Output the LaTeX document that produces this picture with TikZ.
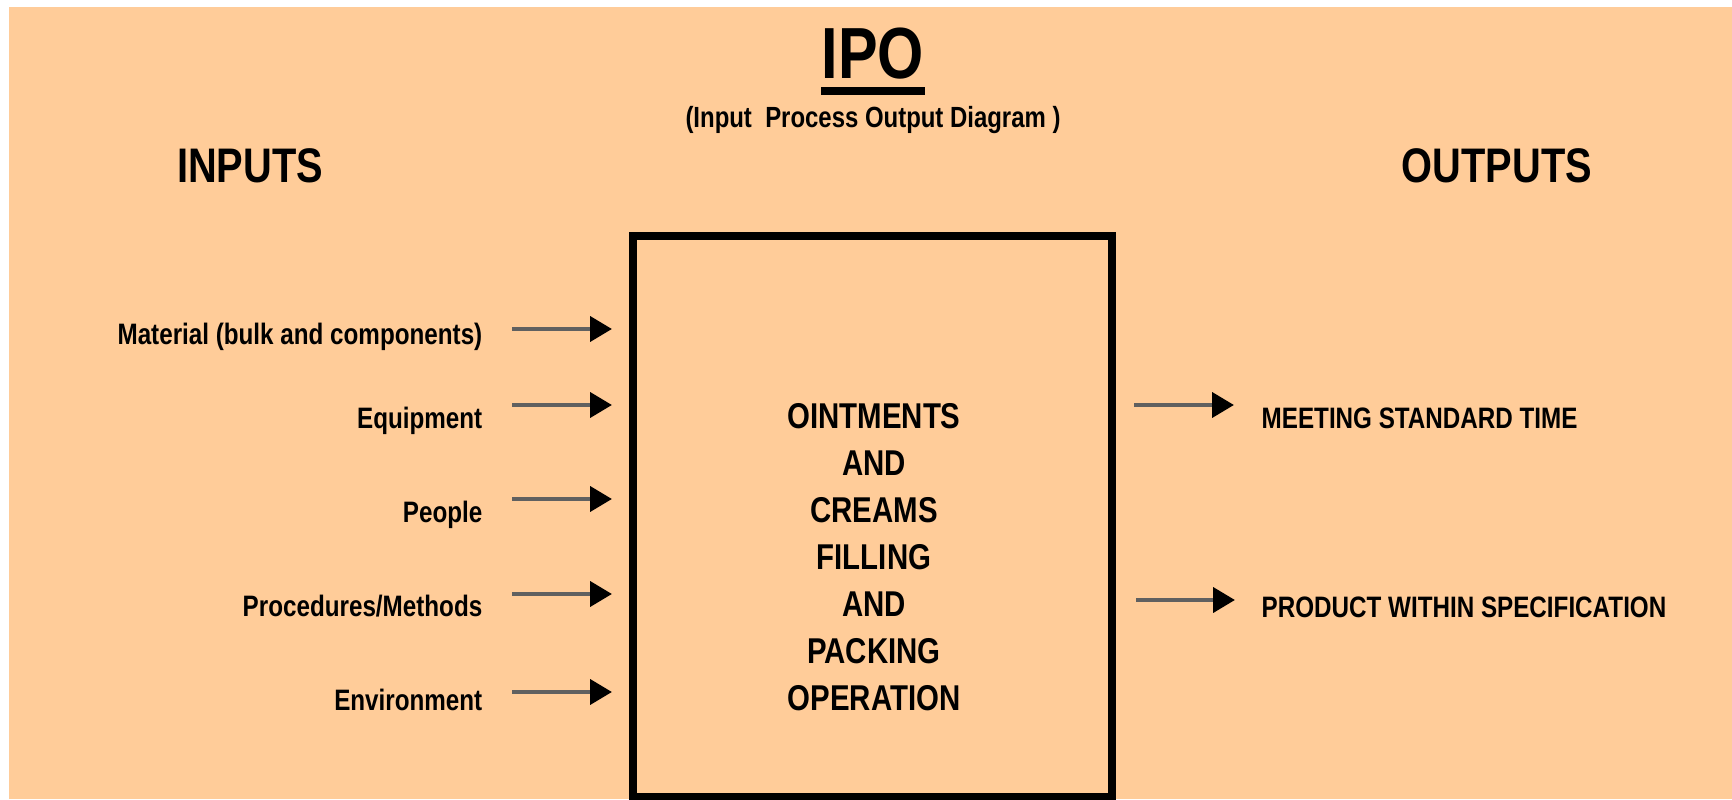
\documentclass[tikz,border=0pt]{standalone}
\usepackage{fontspec}
\setmainfont{Liberation Sans}[FakeStretch=0.82]
\usetikzlibrary{shapes,arrows,arrows.meta}
\definecolor{peach}{HTML}{FFCC99}

\begin{document}
\begin{tikzpicture}[x=0.01cm,y=-0.01cm]
		\tikzstyle {plain text} = [font=\bfseries, inner sep=0pt]
		\tikzstyle {label text} = [plain text, font=\fontsize{8.4pt}{10pt}\selectfont\bfseries]
		\tikzstyle {side title} = [plain text, font=\fontsize{13.8pt}{16pt}\selectfont\bfseries]
		\tikzstyle {proc box} = [draw, line width=2.3pt, inner sep=0pt, outer sep=0pt, minimum width=4.79cm, minimum height=5.61cm]
		\tikzstyle {flow line} = [line width=1.3pt, draw=gray!75!black, -{Triangle[length=6.2pt,width=7pt,color=black]}]

		\useasboundingbox (0,0) rectangle (1732,799);
		\fill[peach] (9,7) rectangle (1732,799);

		% title
		\node[plain text, anchor=base, font=\fontsize{20.6pt}{26pt}\selectfont\bfseries] (ipo) at (873,78) {IPO};
		\draw[line width=2.3pt] ([yshift=-3.7pt]ipo.base west) -- ([yshift=-3.7pt]ipo.base east);
		\node[plain text, anchor=base, font=\fontsize{8.3pt}{10pt}\selectfont\bfseries] (ipoSub) at (873,127) {(Input~ Process Output Diagram~)};

		\node[side title, anchor=base] (inputs) at (250,182) {INPUTS};
		\node[side title, anchor=base] (outputs) at (1497,182) {OUTPUTS};

		% process box
		\node[proc box, anchor=north west] (proc) at (633,236) {};
		\node[plain text, align=center, font=\fontsize{10.2pt}{13.37pt}\selectfont\bfseries] (procText) at (874,557)
			{OINTMENTS\\AND\\CREAMS\\FILLING\\AND\\PACKING\\OPERATION};

		% inputs
		\node[label text, anchor=base east] (material) at (483,344) {Material (bulk and components)};
		\node[label text, anchor=base east] (equipment) at (483,428) {Equipment};
		\node[label text, anchor=base east] (people) at (483,522) {People};
		\node[label text, anchor=base east] (methods) at (483,616) {Procedures/Methods};
		\node[label text, anchor=base east] (environment) at (483,710) {Environment};

		\coordinate (materialA) at (512,329);  \coordinate (materialB) at (612,329);
		\coordinate (equipmentA) at (512,405); \coordinate (equipmentB) at (612,405);
		\coordinate (peopleA) at (512,499);    \coordinate (peopleB) at (612,499);
		\coordinate (methodsA) at (512,594);   \coordinate (methodsB) at (612,594);
		\coordinate (environmentA) at (512,692); \coordinate (environmentB) at (612,692);

		\draw[flow line] (materialA) -- (materialB);
		\draw[flow line] (equipmentA) -- (equipmentB);
		\draw[flow line] (peopleA) -- (peopleB);
		\draw[flow line] (methodsA) -- (methodsB);
		\draw[flow line] (environmentA) -- (environmentB);

		% outputs
		\node[label text, anchor=base west] (stdTime) at (1261,428) {MEETING STANDARD TIME};
		\node[label text, anchor=base west] (inSpec) at (1261,617) {PRODUCT WITHIN SPECIFICATION};

		\coordinate (stdTimeA) at (1134,405); \coordinate (stdTimeB) at (1234,405);
		\coordinate (inSpecA) at (1136,600);  \coordinate (inSpecB) at (1235,600);

		\draw[flow line] (stdTimeA) -- (stdTimeB);
		\draw[flow line] (inSpecA) -- (inSpecB);
\end{tikzpicture}
\end{document}
